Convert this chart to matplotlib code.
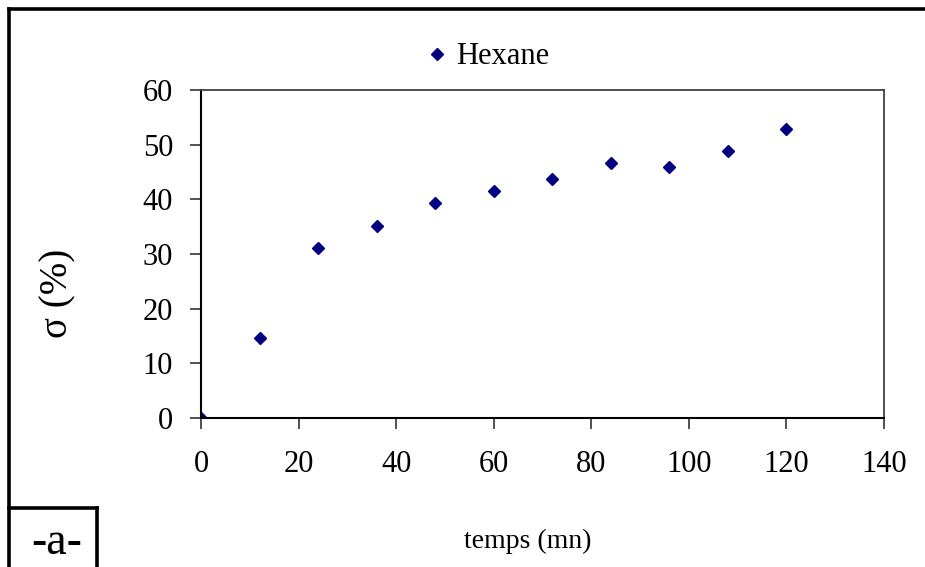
import matplotlib
matplotlib.use('Agg')
import matplotlib.pyplot as plt
from matplotlib.lines import Line2D

plt.rcParams['font.family'] = ['Liberation Serif', 'DejaVu Serif']

# Data
temps = [0, 12, 24, 36, 48, 60, 72, 84, 96, 108, 120]
sigma = [0, 14.7, 31.1, 35.1, 39.3, 41.6, 43.7, 46.6, 46.0, 48.9, 52.9]
x_ticks = [0, 20, 40, 60, 80, 100, 120, 140]
y_ticks = [0, 10, 20, 30, 40, 50, 60]

W, H = 925, 567
fig = plt.figure(figsize=(W / 100, H / 100), dpi=100)


def fx(px):
    return px / W


def fy(py):
    return 1 - py / H


ax = fig.add_axes([fx(201), fy(418), fx(884) - fx(201), fy(90) - fy(418)])
ax.plot(temps, sigma, linestyle='none', marker='D', markersize=6.5,
        color='#000080', label='Hexane')

ax.set_xlim(0, 140)
ax.set_ylim(0, 60)
ax.set_xticks(x_ticks)
ax.set_yticks(y_ticks)
ax.tick_params(axis='both', direction='out', length=8, width=1.2,
               labelsize=22, color='#333333')
ax.tick_params(axis='x', pad=15)
ax.tick_params(axis='y', pad=12)
for side in ['left', 'bottom']:
    ax.spines[side].set_color('black')
    ax.spines[side].set_linewidth(1.5)
for side in ['top', 'right']:
    ax.spines[side].set_color('#404040')
    ax.spines[side].set_linewidth(1.3)

ax.set_xlabel('temps (mn)', fontsize=20)
ax.xaxis.set_label_coords((528 - 201) / 683, (418 - 541) / 328)
ax.xaxis.label.set_va('center')
ax.set_ylabel('σ (%)', fontsize=28)
ax.yaxis.set_label_coords((58 - 201) / 683, (418 - 293) / 328)
ax.yaxis.label.set_va('center')

ax.legend(loc='center left', bbox_to_anchor=(fx(416), fy(57)),
          bbox_transform=fig.transFigure, frameon=False, fontsize=22,
          handlelength=0.6, handletextpad=0.3, borderaxespad=0.0)

# outer frame and the "-a-" box
lw = 2.6
fig.add_artist(Line2D([fx(9), 1.0], [fy(9), fy(9)], color='black', lw=lw))
fig.add_artist(Line2D([fx(9), fx(9)], [fy(9), 0.0], color='black', lw=lw))
fig.add_artist(Line2D([fx(9), fx(97)], [fy(508), fy(508)], color='black', lw=lw))
fig.add_artist(Line2D([fx(97), fx(97)], [fy(508), 0.0], color='black', lw=lw))
fig.text(fx(57), fy(543), '-a-', fontsize=33, ha='center', va='center')

fig.savefig('out.png', dpi=100)
